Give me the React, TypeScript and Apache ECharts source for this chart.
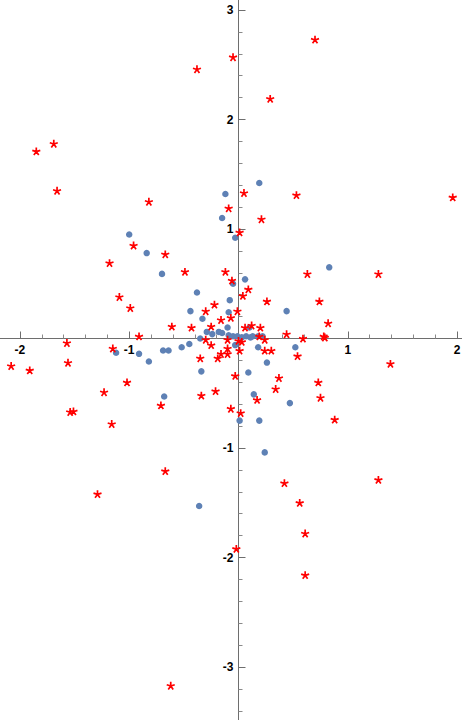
import React, { useEffect, useRef } from "react";
import * as echarts from "echarts";

const blueX = [-0.12, -0.15, -0.03, 0.19, -1.0, -0.84, -0.7, -0.05, -0.38, -0.44, -0.08, -0.09, -0.33, -0.29, -0.24, -0.18, -0.15, -0.1, -0.35, -0.03, -1.12, -0.91, -0.69, -0.64, -0.52, -0.45, -0.82, -0.34, -0.68, 0.01, 0.83, 0.06, 0.44, 0.1, -0.09, -0.05, -0.01, 0.03, 0.07, 0.11, 0.13, 0.18, 0.22, 0.18, 0.52, 0.26, 0.09, 0.14, 0.47, 0.19, 0.24, -0.36];
const blueY = [1.32, 1.1, 0.92, 1.42, 0.95, 0.78, 0.59, 0.5, 0.42, 0.25, 0.35, 0.24, 0.18, 0.06, 0.04, 0.06, 0.05, 0.1, 0.0, -0.06, -0.13, -0.14, -0.11, -0.11, -0.08, -0.05, -0.21, -0.3, -0.53, -0.75, 0.65, 0.54, 0.25, 0.1, 0.03, 0.02, 0.02, 0.01, 0.02, 0.01, 0.02, 0.02, 0.02, -0.08, -0.08, -0.22, -0.31, -0.51, -0.59, -0.75, -1.04, -1.53];

const redX = [-0.05, -0.38, -1.69, -1.85, -1.66, -0.82, -0.09, 0.01, 0.7, 0.29, 0.05, 0.53, 1.96, 0.21, -0.96, -0.67, -1.18, -0.49, -0.12, -0.06, -1.09, -0.99, -0.22, -0.3, -0.01, -0.07, -0.16, -0.61, -0.43, -0.25, -0.91, -0.3, -0.25, -0.1, -0.1, -1.57, -1.15, -0.35, -0.16, -0.19, -0.1, -2.08, -1.91, -1.56, -0.03, -1.02, -1.23, -0.21, -0.34, -0.71, -1.54, -1.51, -0.07, -1.16, 0.02, -0.67, 0.63, 1.28, 0.09, 0.04, 0.26, 0.74, 0.82, 0.06, 0.12, 0.2, 0.44, 0.59, 0.78, 0.79, 0.24, 0.01, 0.24, 0.3, 0.54, 1.39, 0.37, 0.34, 0.73, 0.17, 0.75, 0.88, -1.29, -0.02, -0.62, 0.42, 1.28, 0.56, 0.61, 0.61, 0.0, 0.03, 0.19];
const redY = [2.57, 2.46, 1.78, 1.71, 1.35, 1.25, 1.19, 0.97, 2.73, 2.19, 1.33, 1.31, 1.29, 1.09, 0.85, 0.77, 0.69, 0.61, 0.61, 0.53, 0.38, 0.28, 0.31, 0.25, 0.25, 0.19, 0.17, 0.11, 0.1, 0.11, 0.02, -0.01, -0.06, -0.01, -0.09, -0.04, -0.09, -0.18, -0.14, -0.18, -0.14, -0.25, -0.29, -0.22, -0.34, -0.4, -0.49, -0.48, -0.52, -0.61, -0.67, -0.665, -0.64, -0.78, -0.68, -1.21, 0.59, 0.59, 0.45, 0.39, 0.34, 0.34, 0.14, 0.1, 0.12, 0.1, 0.04, 0.0, 0.02, 0.01, -0.01, -0.11, -0.11, -0.11, -0.16, -0.23, -0.36, -0.46, -0.4, -0.56, -0.54, -0.74, -1.42, -1.92, -3.17, -1.32, -1.29, -1.5, -1.78, -2.16, -0.02, -0.03, 0.02];

// axis extents (multiples of the tick interval) and the tick labels that are shown
const xTickMin = -3;
const xTickMax = 3;
const yTickMin = -4;
const yTickMax = 4;
const xLabels = [-2, -1, 1, 2];
const yLabels = [-3, -2, -1, 1, 2, 3];

const ASTERISK =
  "path://M0 0L0 -5M0 0L4.76 -1.55M0 0L2.94 4.05M0 0L-2.94 4.05M0 0L-4.76 -1.55";

const X0 = 238.5; // pixel of x = 0
const Y0 = 338.5; // pixel of y = 0
const UX = 109.3;
const UY = 109.5;

export default function App() {
  const ref = useRef<HTMLDivElement>(null);
  useEffect(() => {
    if (!ref.current) return;
    const chart = echarts.init(ref.current, undefined, { renderer: "svg" });
    const blue = blueX.map((x, i) => [x, blueY[i]]);
    const red = redX.map((x, i) => [x, redY[i]]);
    const gridLeft = X0 + xTickMin * UX;
    const gridTop = Y0 - yTickMax * UY;
    const gridBottomPx = Y0 - yTickMin * UY;
    const axisCommon = {
      type: "value" as const,
      interval: 1,
      axisLine: { onZero: false, lineStyle: { color: "#6e6e6e", width: 1 } },
      axisTick: { show: true, inside: true, length: 7, lineStyle: { color: "#6e6e6e" } },
      minorTick: { show: true, splitNumber: 5, length: 4, lineStyle: { color: "#8a8a8a" } },
      splitLine: { show: false },
      minorSplitLine: { show: false },
    };
    const labelCommon = {
      color: "#000",
      fontSize: 12,
      fontWeight: "bold" as const,
      fontFamily: "Liberation Sans, Arial, sans-serif",
      margin: 5,
    };
    chart.setOption({
      animation: false,
      backgroundColor: "#fff",
      grid: {
        left: gridLeft,
        width: (xTickMax - xTickMin) * UX,
        top: gridTop,
        height: (yTickMax - yTickMin) * UY,
        outerBoundsMode: "none",
        containLabel: false,
      },
      xAxis: {
        ...axisCommon,
        min: xTickMin,
        max: xTickMax,
        position: "bottom",
        offset: -(gridBottomPx - Y0),
        axisLabel: {
          ...labelCommon,
          formatter: (v: number) => (xLabels.includes(v) ? String(v) : ""),
        },
      },
      yAxis: {
        ...axisCommon,
        min: yTickMin,
        max: yTickMax,
        position: "left",
        offset: -(X0 - gridLeft),
        axisLabel: {
          ...labelCommon,
          formatter: (v: number) => (yLabels.includes(v) ? String(v) : ""),
        },
      },
      series: [
        {
          type: "scatter",
          data: blue,
          symbol: "circle",
          symbolSize: 6.5,
          itemStyle: { color: "#5E81B5", opacity: 1 },
          z: 2,
        },
        {
          type: "scatter",
          data: red,
          symbol: ASTERISK,
          symbolSize: 8,
          symbolKeepAspect: true,
          itemStyle: { color: "#ff0000", borderColor: "#ff0000", borderWidth: 1.7, opacity: 1 },
          z: 3,
        },
      ],
    });
    return () => chart.dispose();
  }, []);
  return (
    <div
      ref={ref}
      style={{ position: "absolute", left: 0, top: 0, width: 462, height: 720, overflow: "hidden" }}
    />
  );
}
